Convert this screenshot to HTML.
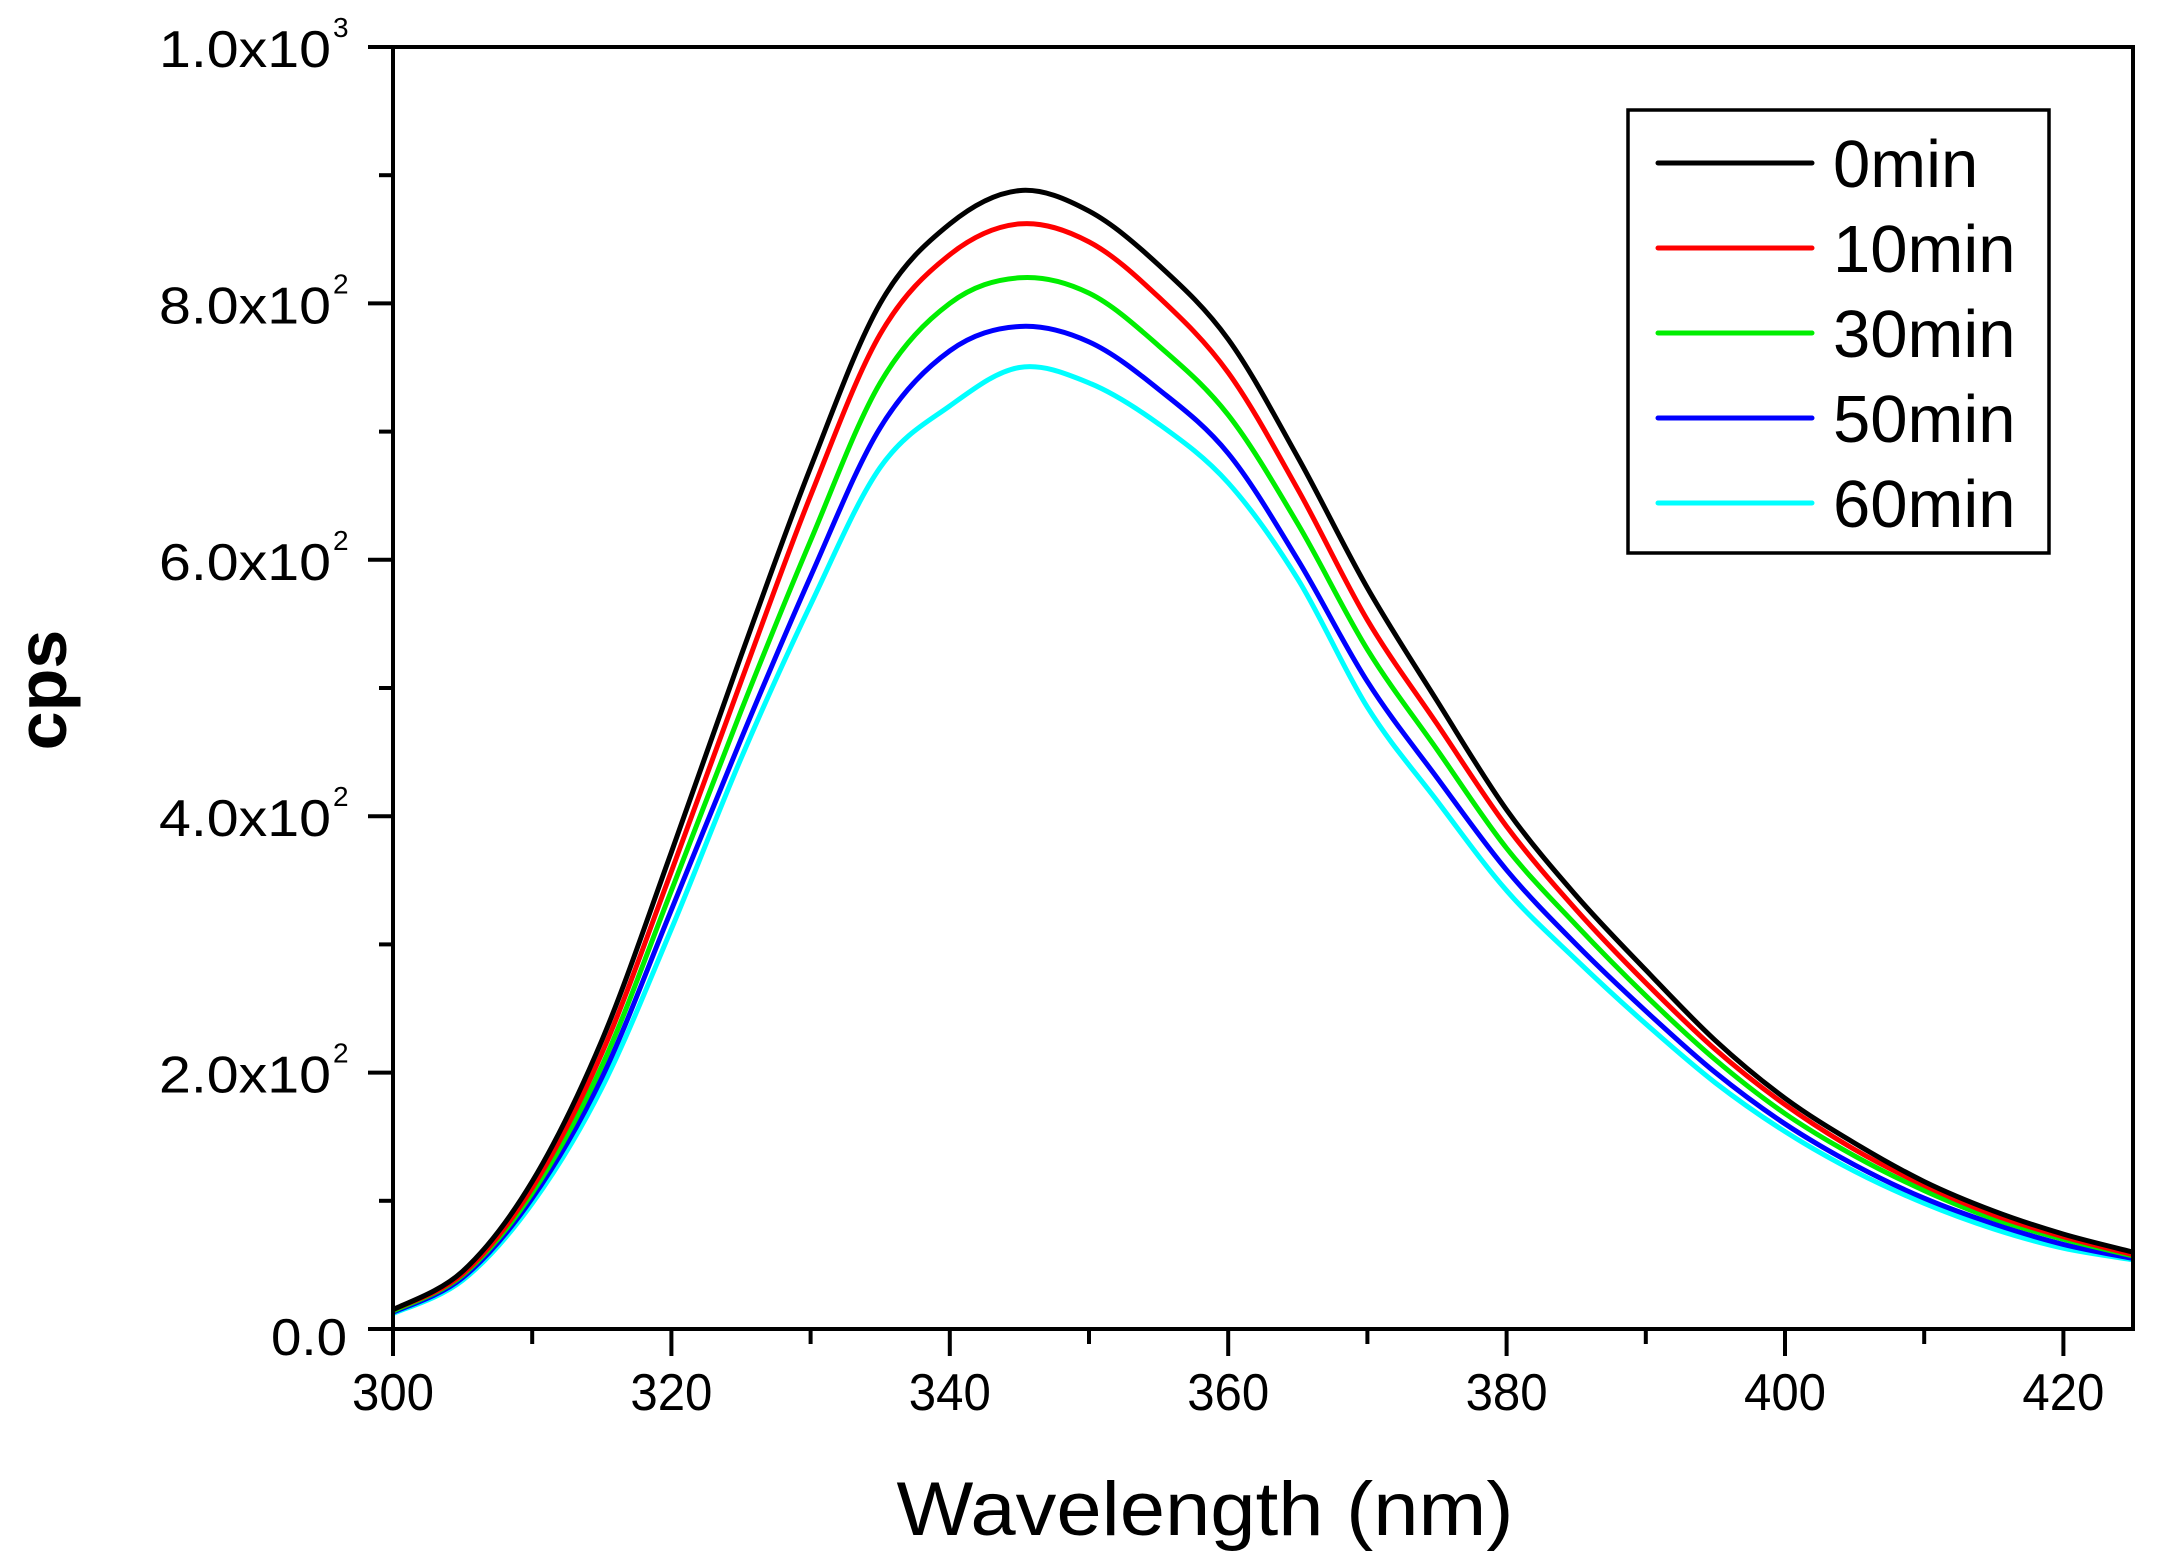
<!DOCTYPE html>
<html><head><meta charset="utf-8"><style>
html,body{margin:0;padding:0;background:#fff}
svg{display:block}
text{font-family:"Liberation Sans",sans-serif;fill:#000}
</style></head><body>
<svg id="chart" width="2157" height="1563" viewBox="0 0 2157 1563" xmlns="http://www.w3.org/2000/svg">
<g id="series"></g>
<g id="axes"></g>
<g id="legend"></g>
</svg>
<script>
const wavelengths = [300,305,310,315,320,325,330,335,340,345,350,355,360,365,370,375,380,385,390,395,400,405,410,415,420,425];
const series0 = [15,45,115,225,372,525,672,800,862,888,872,830,772,680,578,490,405,338,280,225,180,145,115,92,74,60];
const series10 = [15,43,110,215,357,505,650,776,838,862,848,805,746,655,553,472,392,327,270,218,175,140,112,89,72,58];
const series30 = [14,42,106,205,342,482,615,738,800,820,808,767,713,628,530,452,375,315,260,210,168,135,108,86,70,57];
const series50 = [13,40,102,196,327,460,587,703,763,782,770,733,683,600,505,430,358,300,248,200,160,128,102,82,66,55];
const series60 = [12,38,98,188,312,445,565,672,720,750,738,706,660,585,485,412,342,288,238,192,154,123,98,78,63,54];
const seriesNames = ["0min","10min","30min","50min","60min"];
const seriesColors = ["#000000","#ff0000","#00ee00","#0000ff","#00ffff"];
const xTicks = [300,320,340,360,380,400,420];
const yTicks = [0,200,400,600,800,1000];
const yTickLabels = ["0.0","2.0x10","4.0x10","6.0x10","8.0x10","1.0x10"];
const yTickExp = ["","2","2","2","2","3"];

const NS="http://www.w3.org/2000/svg";
const L=393,R=2133,T=47,B=1329;
const xMin=300,xMax=425,yMin=0,yMax=1000;
function X(v){return L+(v-xMin)/(xMax-xMin)*(R-L);}
function Y(v){return B-(v-yMin)/(yMax-yMin)*(B-T);}
function mk(tag,attrs,parent){const e=document.createElementNS(NS,tag);for(const k in attrs)e.setAttribute(k,attrs[k]);parent.appendChild(e);return e;}

const sg=document.getElementById('series');
const all=[series0,series10,series30,series50,series60];
for(let s=all.length-1;s>=0;s--){
  const pts=wavelengths.map((w,i)=>[X(w),Y(all[s][i])]);
  let d="M"+pts[0][0]+","+pts[0][1];
  for(let i=0;i<pts.length-1;i++){
    const p0=pts[Math.max(0,i-1)],p1=pts[i],p2=pts[i+1],p3=pts[Math.min(pts.length-1,i+2)];
    const c1=[p1[0]+(p2[0]-p0[0])/6,p1[1]+(p2[1]-p0[1])/6];
    const c2=[p2[0]-(p3[0]-p1[0])/6,p2[1]-(p3[1]-p1[1])/6];
    d+=" C"+c1[0]+","+c1[1]+" "+c2[0]+","+c2[1]+" "+p2[0]+","+p2[1];
  }
  const p=mk('path',{d:d,fill:'none',stroke:seriesColors[s],'stroke-width':5,'stroke-linejoin':'round'},sg);
  
  
}

const ax=document.getElementById('axes');
const frame=mk('rect',{x:L,y:T,width:R-L,height:B-T,fill:'none',stroke:'#000','stroke-width':4},ax);


for(let v=300;v<=425;v+=10){
  const major=(v%20===0);
  const t=mk('line',{x1:X(v),x2:X(v),y1:B,y2:B+(major?27:15),stroke:'#000','stroke-width':4},ax);
  
  
}
xTicks.forEach(v=>{
  const t=mk('text',{x:X(v),y:1410,'font-size':52,'text-anchor':'middle',textLength:82,lengthAdjust:'spacingAndGlyphs'},ax);
  t.textContent=v;
  
  
});
for(let v=0;v<=1000;v+=100){
  const major=(v%200===0);
  const t=mk('line',{x1:L-(major?25:14),x2:L,y1:Y(v),y2:Y(v),stroke:'#000','stroke-width':4},ax);
  
  
}
yTicks.forEach((v,i)=>{
  const y=Y(v)+20;
  if(yTickExp[i]===""){
    const t=mk('text',{x:347,y:Y(v)+6+20,'font-size':52,'text-anchor':'end',textLength:76,lengthAdjust:'spacingAndGlyphs'},ax);
    t.textContent=yTickLabels[i];
    
    
  } else {
    const t=mk('text',{x:159,y:y,'font-size':52,textLength:172,lengthAdjust:'spacingAndGlyphs'},ax);
    t.textContent=yTickLabels[i];
    
    
    const e=mk('text',{x:333,y:y-30,'font-size':28},ax);
    e.textContent=yTickExp[i];
    
    
  }
});
const xt=mk('text',{x:1205,y:1535,'font-size':76,'text-anchor':'middle',textLength:617,lengthAdjust:'spacingAndGlyphs'},ax);
xt.textContent="Wavelength (nm)";


const yt=mk('text',{x:0,y:0,'font-size':70,'font-weight':'bold','text-anchor':'middle',transform:'translate(66,690) rotate(-90)'},ax);
yt.textContent="cps";



const lg=document.getElementById('legend');
const box=mk('rect',{x:1628,y:110,width:421,height:443,fill:'#fff',stroke:'#000','stroke-width':3.5},lg);


seriesNames.forEach((n,i)=>{
  const y=163+i*85;
  const l=mk('line',{x1:1658,x2:1812,y1:y,y2:y,stroke:seriesColors[i],'stroke-width':5,'stroke-linecap':'round'},lg);
  
  
  const t=mk('text',{x:1833,y:y+24,'font-size':67},lg);
  t.textContent=n;
  
  
});
</script>
</body></html>
